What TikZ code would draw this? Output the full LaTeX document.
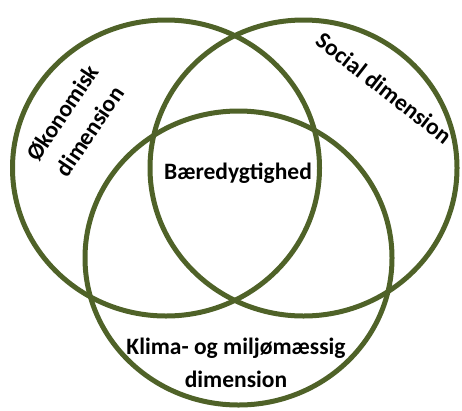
\documentclass[tikz,border=0pt]{standalone}
\usepackage{fontspec}
\setmainfont{Carlito}
\usepackage{tikz}

\definecolor{olivegreen}{RGB}{79,98,40}

\begin{document}
\begin{tikzpicture}[x=1pt,y=-1pt,
    ring/.style={draw=olivegreen,line width=5pt},
    every node/.style={font=\fontsize{23.5}{33}\selectfont\bfseries,align=center,inner sep=0pt}]
  \useasboundingbox (0,0) rectangle (462,410);

  \draw[ring] (166,168) ellipse [x radius=153.5,y radius=148];
  \draw[ring] (303.5,168) ellipse [x radius=153.5,y radius=148];
  \draw[ring] (238.5,258) ellipse [x radius=153.5,y radius=147];

  \node (oko)[rotate=56] at (76,122) {Økonomisk\\dimension};
  \node (soc)[rotate=-38] at (384,88) {Social dimension};
  \node (klima) at (236,363) {Klima- og miljømæssig\\dimension};
  \node (baer) at (238,173) {Bæredygtighed};
\end{tikzpicture}
\end{document}
